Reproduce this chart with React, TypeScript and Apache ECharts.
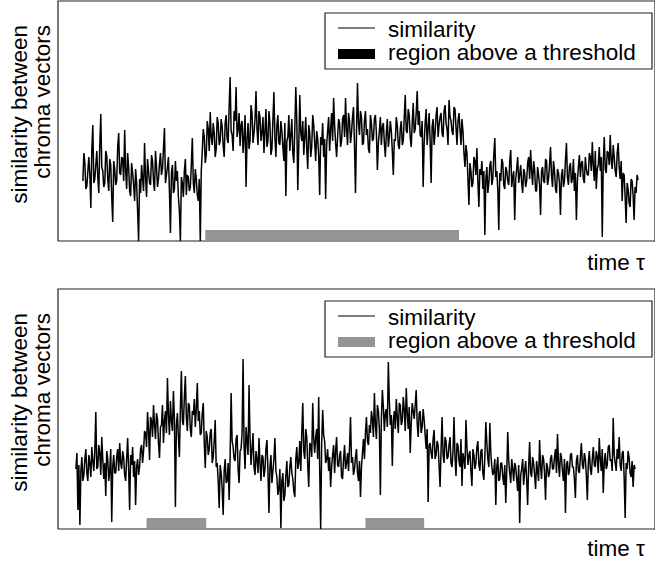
import React, { useEffect, useRef } from "react";
import * as echarts from "echarts";

// similarity signal, upper panel (height above the bottom of the plot box, units 0..240)
const topSimilarity = [
  60, 88, 78, 52, 55, 70, 84, 66, 33, 92, 116, 58, 62, 76, 90, 64, 48, 96, 127, 74,
  70, 54, 58, 90, 85, 62, 50, 82, 76, 44, 19, 80, 72, 56, 60, 94, 108, 68, 66, 84,
  82, 60, 111, 70, 52, 88, 74, 50, 45, 78, 68, 56, 40, 72, 58, 30, 0, 62, 48, 76,
  62, 50, 98, 64, 44, 82, 70, 58, 56, 86, 80, 60, 50, 90, 74, 54, 62, 78, 88, 66,
  72, 92, 113, 58, 66, 74, 84, 50, 8, 68, 76, 48, 52, 80, 60, 70, 44, 30, 0, 64,
  58, 44, 70, 82, 46, 66, 64, 50, 54, 76, 103, 58, 48, 72, 62, 46, 40, 62, 0, 70,
  90, 112, 104, 78, 86, 120, 112, 90, 129, 104, 96, 118, 108, 84, 92, 124, 118, 96, 100, 122,
  114, 96, 84, 118, 126, 102, 98, 134, 164, 110, 106, 90, 130, 120, 154, 104, 112, 128, 95, 116,
  120, 88, 104, 126, 54, 102, 118, 92, 100, 136, 128, 98, 108, 122, 150, 112, 96, 130, 124, 100,
  108, 124, 88, 110, 132, 94, 100, 130, 118, 86, 92, 122, 149, 104, 84, 116, 126, 98, 96, 120,
  110, 94, 80, 118, 45, 100, 104, 126, 90, 106, 122, 88, 78, 112, 154, 120, 51, 96, 146, 108,
  100, 120, 86, 104, 124, 92, 72, 116, 108, 84, 94, 126, 116, 98, 80, 110, 102, 86, 46, 104,
  96, 118, 84, 102, 42, 96, 110, 124, 90, 112, 128, 100, 143, 116, 98, 84, 104, 122, 118, 94,
  100, 122, 126, 104, 143, 112, 96, 128, 120, 98, 108, 124, 134, 96, 48, 110, 158, 118, 106, 130,
  124, 96, 98, 120, 130, 106, 112, 92, 88, 126, 118, 100, 102, 122, 126, 108, 71, 98, 110, 124,
  96, 114, 118, 98, 84, 108, 122, 94, 104, 120, 110, 90, 66, 102, 100, 124, 116, 96, 92, 112,
  120, 96, 100, 124, 146, 110, 108, 132, 126, 104, 94, 118, 138, 108, 112, 128, 150, 116, 130, 106,
  104, 120, 54, 98, 118, 132, 96, 112, 128, 100, 58, 114, 122, 96, 108, 126, 134, 104, 116, 124,
  128, 108, 104, 130, 136, 118, 112, 96, 141, 124, 120, 110, 106, 134, 132, 114, 96, 120, 128, 112,
  96, 122, 110, 88, 74, 96, 88, 62, 36, 78, 70, 54, 58, 84, 80, 66, 93, 60, 34, 72,
  66, 80, 52, 70, 6, 62, 74, 48, 58, 76, 80, 56, 62, 86, 103, 64, 70, 52, 11, 68,
  60, 82, 78, 56, 52, 74, 70, 60, 56, 80, 91, 54, 64, 70, 21, 62, 72, 84, 58, 66,
  76, 58, 48, 72, 68, 54, 60, 78, 84, 62, 91, 70, 56, 80, 72, 50, 50, 74, 66, 56,
  26, 70, 74, 60, 58, 82, 80, 56, 62, 76, 94, 66, 54, 80, 70, 52, 48, 72, 68, 58,
  26, 66, 72, 54, 60, 80, 98, 64, 56, 74, 78, 58, 62, 82, 50, 68, 21, 60, 74, 86,
  64, 78, 80, 62, 58, 84, 72, 66, 66, 88, 84, 70, 99, 76, 60, 90, 52, 72, 76, 94,
  70, 84, 4, 78, 104, 72, 68, 90, 88, 76, 106, 80, 72, 96, 84, 70, 64, 88, 98, 74,
  62, 80, 40, 68, 66, 44, 18, 58, 52, 38, 34, 62, 60, 46, 21, 54, 48, 66, 61,
];

// similarity signal, lower panel
const bottomSimilarity = [
  60, 76, 19, 64, 4, 58, 72, 48, 54, 70, 80, 56, 48, 74, 66, 52, 82, 68, 58, 78,
  117, 60, 62, 84, 76, 54, 92, 70, 50, 66, 33, 78, 70, 48, 58, 80, 7, 62, 74, 56,
  56, 72, 80, 58, 86, 66, 60, 78, 72, 54, 48, 70, 91, 60, 19, 74, 64, 82, 52, 68,
  24, 62, 70, 54, 62, 80, 84, 66, 78, 98, 96, 82, 117, 100, 69, 112, 108, 92, 124, 104,
  90, 116, 110, 86, 71, 102, 104, 124, 86, 108, 118, 96, 151, 114, 94, 128, 108, 98, 138, 110,
  22, 104, 116, 92, 72, 120, 158, 108, 104, 132, 153, 112, 98, 126, 124, 100, 92, 118, 114, 130,
  102, 120, 146, 108, 118, 94, 96, 116, 126, 86, 61, 98, 92, 74, 80, 96, 100, 66, 72, 88,
  109, 62, 66, 48, 21, 64, 56, 40, 14, 58, 70, 46, 48, 66, 29, 72, 136, 88, 82, 70,
  68, 90, 94, 60, 46, 78, 80, 96, 170, 84, 60, 102, 88, 74, 144, 92, 64, 80, 96, 62,
  54, 78, 70, 56, 91, 66, 48, 74, 72, 52, 60, 80, 89, 58, 16, 62, 74, 46, 58, 70,
  91, 58, 52, 34, 40, 60, 1, 48, 56, 28, 34, 54, 68, 42, 44, 62, 72, 56, 50, 38,
  32, 70, 82, 60, 66, 88, 58, 96, 126, 78, 70, 100, 92, 64, 42, 86, 84, 72, 126, 90,
  76, 92, 100, 70, 132, 60, 0, 86, 119, 94, 88, 66, 70, 80, 58, 72, 42, 62, 74, 84,
  56, 78, 92, 64, 62, 74, 78, 52, 50, 70, 84, 60, 66, 76, 58, 82, 112, 66, 72, 54,
  60, 72, 80, 56, 48, 68, 32, 62, 76, 90, 70, 96, 112, 88, 84, 104, 96, 118, 110, 92,
  136, 104, 90, 124, 118, 100, 34, 110, 139, 122, 98, 116, 120, 102, 167, 128, 104, 114, 63, 108,
  118, 100, 130, 112, 96, 126, 124, 104, 108, 132, 120, 98, 141, 116, 100, 122, 76, 106, 126, 118,
  110, 124, 139, 106, 92, 116, 118, 96, 102, 120, 109, 94, 80, 100, 27, 84, 86, 76, 70, 90,
  99, 70, 74, 88, 84, 64, 42, 80, 112, 74, 66, 92, 88, 70, 72, 84, 92, 66, 62, 78,
  112, 72, 53, 86, 84, 68, 62, 90, 43, 76, 70, 60, 109, 82, 64, 74, 78, 58, 43, 80,
  74, 60, 66, 82, 88, 64, 58, 78, 80, 56, 49, 72, 107, 86, 70, 62, 106, 76, 62, 54,
  58, 70, 24, 62, 72, 48, 50, 66, 66, 52, 44, 64, 26, 58, 97, 68, 56, 46, 70, 60,
  48, 66, 62, 50, 38, 64, 6, 54, 60, 70, 44, 58, 68, 50, 24, 62, 87, 56, 52, 72,
  66, 54, 40, 68, 58, 48, 89, 62, 50, 74, 70, 56, 29, 66, 62, 52, 56, 70, 74, 60,
  60, 72, 80, 56, 95, 66, 52, 76, 72, 58, 48, 70, 16, 64, 68, 54, 58, 74, 76, 62,
  62, 50, 31, 68, 74, 58, 56, 72, 86, 64, 60, 76, 70, 54, 29, 66, 78, 60, 54, 70,
  82, 64, 62, 78, 72, 56, 91, 70, 58, 80, 36, 66, 76, 60, 64, 82, 84, 68, 70, 58,
  111, 74, 66, 58, 80, 70, 92, 64, 58, 76, 78, 52, 11, 66, 60, 78, 71, 56, 52, 68,
  42, 64, 60,
];

// regions above a threshold, [start, end] in sample index units
const topRegions = [[123, 378]];
const bottomRegions = [[71, 131], [291, 350]];
const regionHeight = 11;

const yLabelLines = ["similarity between", "chroma vectors"];
const legendLabels = ["similarity", "region above a threshold"];
const xLabel = "time \u03c4";

const FONT = '"Liberation Sans", Arial, Helvetica, sans-serif';
const FS = 22.5;

export default function App() {
  const ref = useRef<HTMLDivElement>(null);

  useEffect(() => {
    if (!ref.current) return;
    const chart = echarts.init(ref.current, undefined, { renderer: "svg" });

    const panels = [
      { data: topSimilarity, regions: topRegions, off: 0, xmin: -25, legendFill: "#000000", xLabelY: 262 },
      { data: bottomSimilarity, regions: bottomRegions, off: 288, xmin: -18, legendFill: "#959595", xLabelY: 548 },
    ];

    const grids = panels.map((p) => ({
      left: 58,
      top: 1 + p.off,
      width: 600,
      height: 240,
      show: true,
      borderColor: "#222",
      borderWidth: 1.2,
      backgroundColor: "transparent",
    }));

    const xAxes = panels.map((p, k) => ({
      type: "value",
      gridIndex: k,
      min: p.xmin,
      max: p.xmin + 600,
      show: false,
    }));
    const yAxes = panels.map((p, k) => ({
      type: "value",
      gridIndex: k,
      min: 0,
      max: 240,
      show: false,
    }));

    const series = panels.map((p, k) => ({
      type: "line",
      xAxisIndex: k,
      yAxisIndex: k,
      data: p.data.map((v, i) => [i, v]),
      showSymbol: false,
      symbol: "none",
      silent: true,
      lineStyle: { color: "#000", width: 1.5 },
      z: 3,
      markArea: {
        silent: true,
        itemStyle: { color: "#959595" },
        data: p.regions.map(([a, b]) => [
          { xAxis: a, yAxis: 0 },
          { xAxis: b, yAxis: regionHeight },
        ]),
      },
    }));

    const graphic: any[] = [];
    panels.forEach((p) => {
      const o = p.off;
      graphic.push(
        {
          type: "text",
          x: 19,
          y: 25 + o,
          rotation: Math.PI / 2,
          style: { text: yLabelLines[0], fontSize: FS, fontFamily: FONT, fill: "#000", align: "right", verticalAlign: "middle" },
        },
        {
          type: "text",
          x: 42,
          y: 25 + o,
          rotation: Math.PI / 2,
          style: { text: yLabelLines[1], fontSize: FS, fontFamily: FONT, fill: "#000", align: "right", verticalAlign: "middle" },
        },
        {
          type: "rect",
          shape: { x: 325, y: 13 + o, width: 327, height: 56 },
          style: { fill: "#fff", stroke: "#222", lineWidth: 1.2 },
          z: 10,
        },
        {
          type: "line",
          shape: { x1: 338, y1: 28 + o, x2: 375, y2: 28 + o },
          style: { stroke: "#000", lineWidth: 1 },
          z: 11,
        },
        {
          type: "rect",
          shape: { x: 338, y: 49 + o, width: 37, height: 10 },
          style: { fill: p.legendFill },
          z: 11,
        },
        {
          type: "text",
          x: 388,
          y: 29 + o,
          style: { text: legendLabels[0], fontSize: FS, fontFamily: FONT, fill: "#000", align: "left", verticalAlign: "middle" },
          z: 11,
        },
        {
          type: "text",
          x: 388,
          y: 52 + o,
          style: { text: legendLabels[1], fontSize: FS, fontFamily: FONT, fill: "#000", align: "left", verticalAlign: "middle" },
          z: 11,
        },
        {
          type: "text",
          x: 645,
          y: p.xLabelY,
          style: { text: xLabel, fontSize: FS, fontFamily: FONT, fill: "#000", align: "right", verticalAlign: "middle" },
        }
      );
    });

    chart.setOption({
      animation: false,
      backgroundColor: "#fff",
      grid: grids,
      xAxis: xAxes,
      yAxis: yAxes,
      series,
      graphic,
    });

    return () => chart.dispose();
  }, []);

  return (
    <div
      ref={ref}
      style={{ position: "fixed", left: 0, top: 0, width: 655, height: 561 }}
    />
  );
}
